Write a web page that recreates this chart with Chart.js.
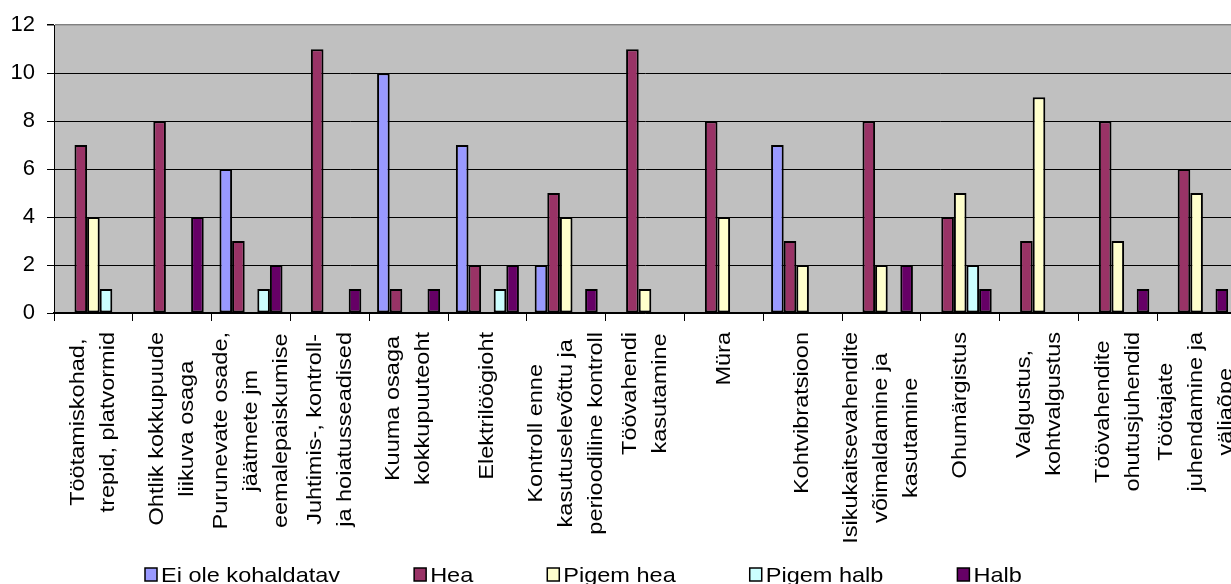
<!DOCTYPE html>
<html>
<head>
<meta charset="utf-8">
<script src="https://cdn.jsdelivr.net/npm/chart.js@4.4.0/dist/chart.umd.min.js"></script>
<style>
  html, body { margin: 0; padding: 0; background: #fff; overflow: hidden; }
  #wrap { width: 1231px; height: 584px; overflow: hidden; }
  canvas { display: block; }
</style>
</head>
<body>
<div id="wrap"><canvas id="chart" width="1236" height="584"></canvas></div>
<script>
const categories = [
  ["Töötamiskohad,", "trepid, platvormid"],
  ["Ohtlik kokkupuude", "liikuva osaga"],
  ["Purunevate osade,", "jäätmete jm", "eemalepaiskumise"],
  ["Juhtimis-, kontroll-", "ja hoiatusseadised"],
  ["Kuuma osaga", "kokkupuuteoht"],
  ["Elektrilöögioht"],
  ["Kontroll enne", "kasutuselevõttu ja", "perioodiline kontroll"],
  ["Töövahendi", "kasutamine"],
  ["Müra"],
  ["Kohtvibratsioon"],
  ["Isikukaitsevahendite", "võimaldamine ja", "kasutamine"],
  ["Ohumärgistus"],
  ["Valgustus,", "kohtvalgustus"],
  ["Töövahendite", "ohutusjuhendid"],
  ["Töötajate", "juhendamine ja", "väljaõpe"]
];

const seriesNames = ["Ei ole kohaldatav", "Hea", "Pigem hea", "Pigem halb", "Halb"];
const eiOleKohaldatav = [0, 0, 6, 0, 10, 7, 2, 0, 0, 7, 0, 0, 0, 0, 0];
const hea             = [7, 8, 3, 11, 1, 2, 5, 11, 8, 3, 8, 4, 3, 8, 6];
const pigemHea        = [4, 0, 0, 0, 0, 0, 4, 1, 4, 2, 2, 5, 9, 3, 5];
const pigemHalb       = [1, 0, 1, 0, 0, 1, 0, 0, 0, 0, 0, 2, 0, 0, 0];
const halb            = [0, 4, 2, 1, 1, 2, 1, 0, 0, 0, 2, 1, 0, 1, 1];
const yTicks = [0, 2, 4, 6, 8, 10, 12];

const colors = ["#9999FF", "#993366", "#FFFFCC", "#CCFFFF", "#660066"];
const FONT = '"Liberation Sans", Arial, sans-serif';

const TEXT_STRETCH = 1.12;   // reference text is a bit wider than tall
const LABEL_TOP = 332;
const LINE_PITCH = 30;
const LEGEND_X = 145;
const LEGEND_Y = 582;
const LEGEND_GAP = 74;

const plotBg = {
  id: "plotBg",
  beforeDraw(chart) {
    const { ctx, chartArea: a } = chart;
    ctx.save();
    ctx.fillStyle = "#C0C0C0";
    ctx.fillRect(a.left, a.top, a.right - a.left, a.bottom - a.top);
    ctx.restore();
  }
};

// rotated, centred multi-line category labels
const xLabels = {
  id: "xLabels",
  afterDraw(chart) {
    const { ctx } = chart;
    const x = chart.scales.x;
    ctx.save();
    ctx.font = `21px ${FONT}`;
    ctx.fillStyle = "#000";
    ctx.textAlign = "center";
    ctx.textBaseline = "middle";
    categories.forEach((lines, i) => {
      const cx = x.getPixelForValue(i);
      const longest = Math.max(...lines.map(l => ctx.measureText(l).width)) * TEXT_STRETCH;
      const cy = LABEL_TOP + longest / 2;
      lines.forEach((line, j) => {
        ctx.save();
        ctx.translate(cx + (j - (lines.length - 1) / 2) * LINE_PITCH, cy);
        ctx.rotate(-Math.PI / 2);
        ctx.scale(TEXT_STRETCH, 1);
        ctx.fillText(line, 0, 0);
        ctx.restore();
      });
    });
    ctx.restore();
  }
};

const bottomLegend = {
  id: "bottomLegend",
  afterDraw(chart) {
    const { ctx } = chart;
    ctx.save();
    ctx.font = `21px ${FONT}`;
    ctx.textBaseline = "alphabetic";
    let pos = LEGEND_X;
    chart.data.datasets.forEach(ds => {
      ctx.fillStyle = ds.backgroundColor;
      ctx.fillRect(pos, LEGEND_Y - 14, 12, 13);
      ctx.strokeStyle = "#000";
      ctx.lineWidth = 1.5;
      ctx.strokeRect(pos, LEGEND_Y - 14, 12, 13);
      ctx.fillStyle = "#000";
      ctx.save();
      ctx.translate(pos + 16, LEGEND_Y);
      ctx.scale(TEXT_STRETCH, 1);
      ctx.fillText(ds.label, 0, 0);
      ctx.restore();
      pos += 16 + ctx.measureText(ds.label).width * TEXT_STRETCH + LEGEND_GAP;
    });
    ctx.restore();
  }
};

const seriesData = [eiOleKohaldatav, hea, pigemHea, pigemHalb, halb];

new Chart(document.getElementById("chart"), {
  type: "bar",
  data: {
    labels: categories.map(l => l.join(" ")),
    datasets: seriesNames.map((name, i) => ({
      label: name,
      data: seriesData[i],
      backgroundColor: colors[i],
      borderColor: "#000",
      borderWidth: 2,
      borderSkipped: false,
      barPercentage: 1,
      categoryPercentage: 0.8
    }))
  },
  options: {
    responsive: false,
    animation: false,
    devicePixelRatio: 1,
    layout: { padding: { top: 23, left: 0, right: 0, bottom: 0 } },
    plugins: { legend: { display: false }, tooltip: { enabled: false } },
    scales: {
      x: {
        ticks: { display: false },
        grid: {
          display: true,
          drawOnChartArea: false,
          drawTicks: true,
          tickLength: 8,
          color: "#000",
          offset: true
        },
        border: { color: "#000", width: 1.5 },
        afterFit: s => { s.height = 271; }
      },
      y: {
        min: 0,
        max: 12,
        afterBuildTicks: s => { s.ticks = yTicks.map(v => ({ value: v })); },
        ticks: { color: "#000", font: { size: 22, family: FONT }, padding: 12 },
        grid: {
          color: c => (c.tick && c.tick.value === 12 ? "#808080" : "#000"),
          lineWidth: c => (c.tick && c.tick.value === 12 ? 1.5 : 1),
          tickColor: "#000",
          tickLength: 7
        },
        border: { color: "#000", width: 1 },
        afterFit: s => { s.width = 54; }
      }
    }
  },
  plugins: [plotBg, xLabels, bottomLegend]
});
</script>
</body>
</html>
